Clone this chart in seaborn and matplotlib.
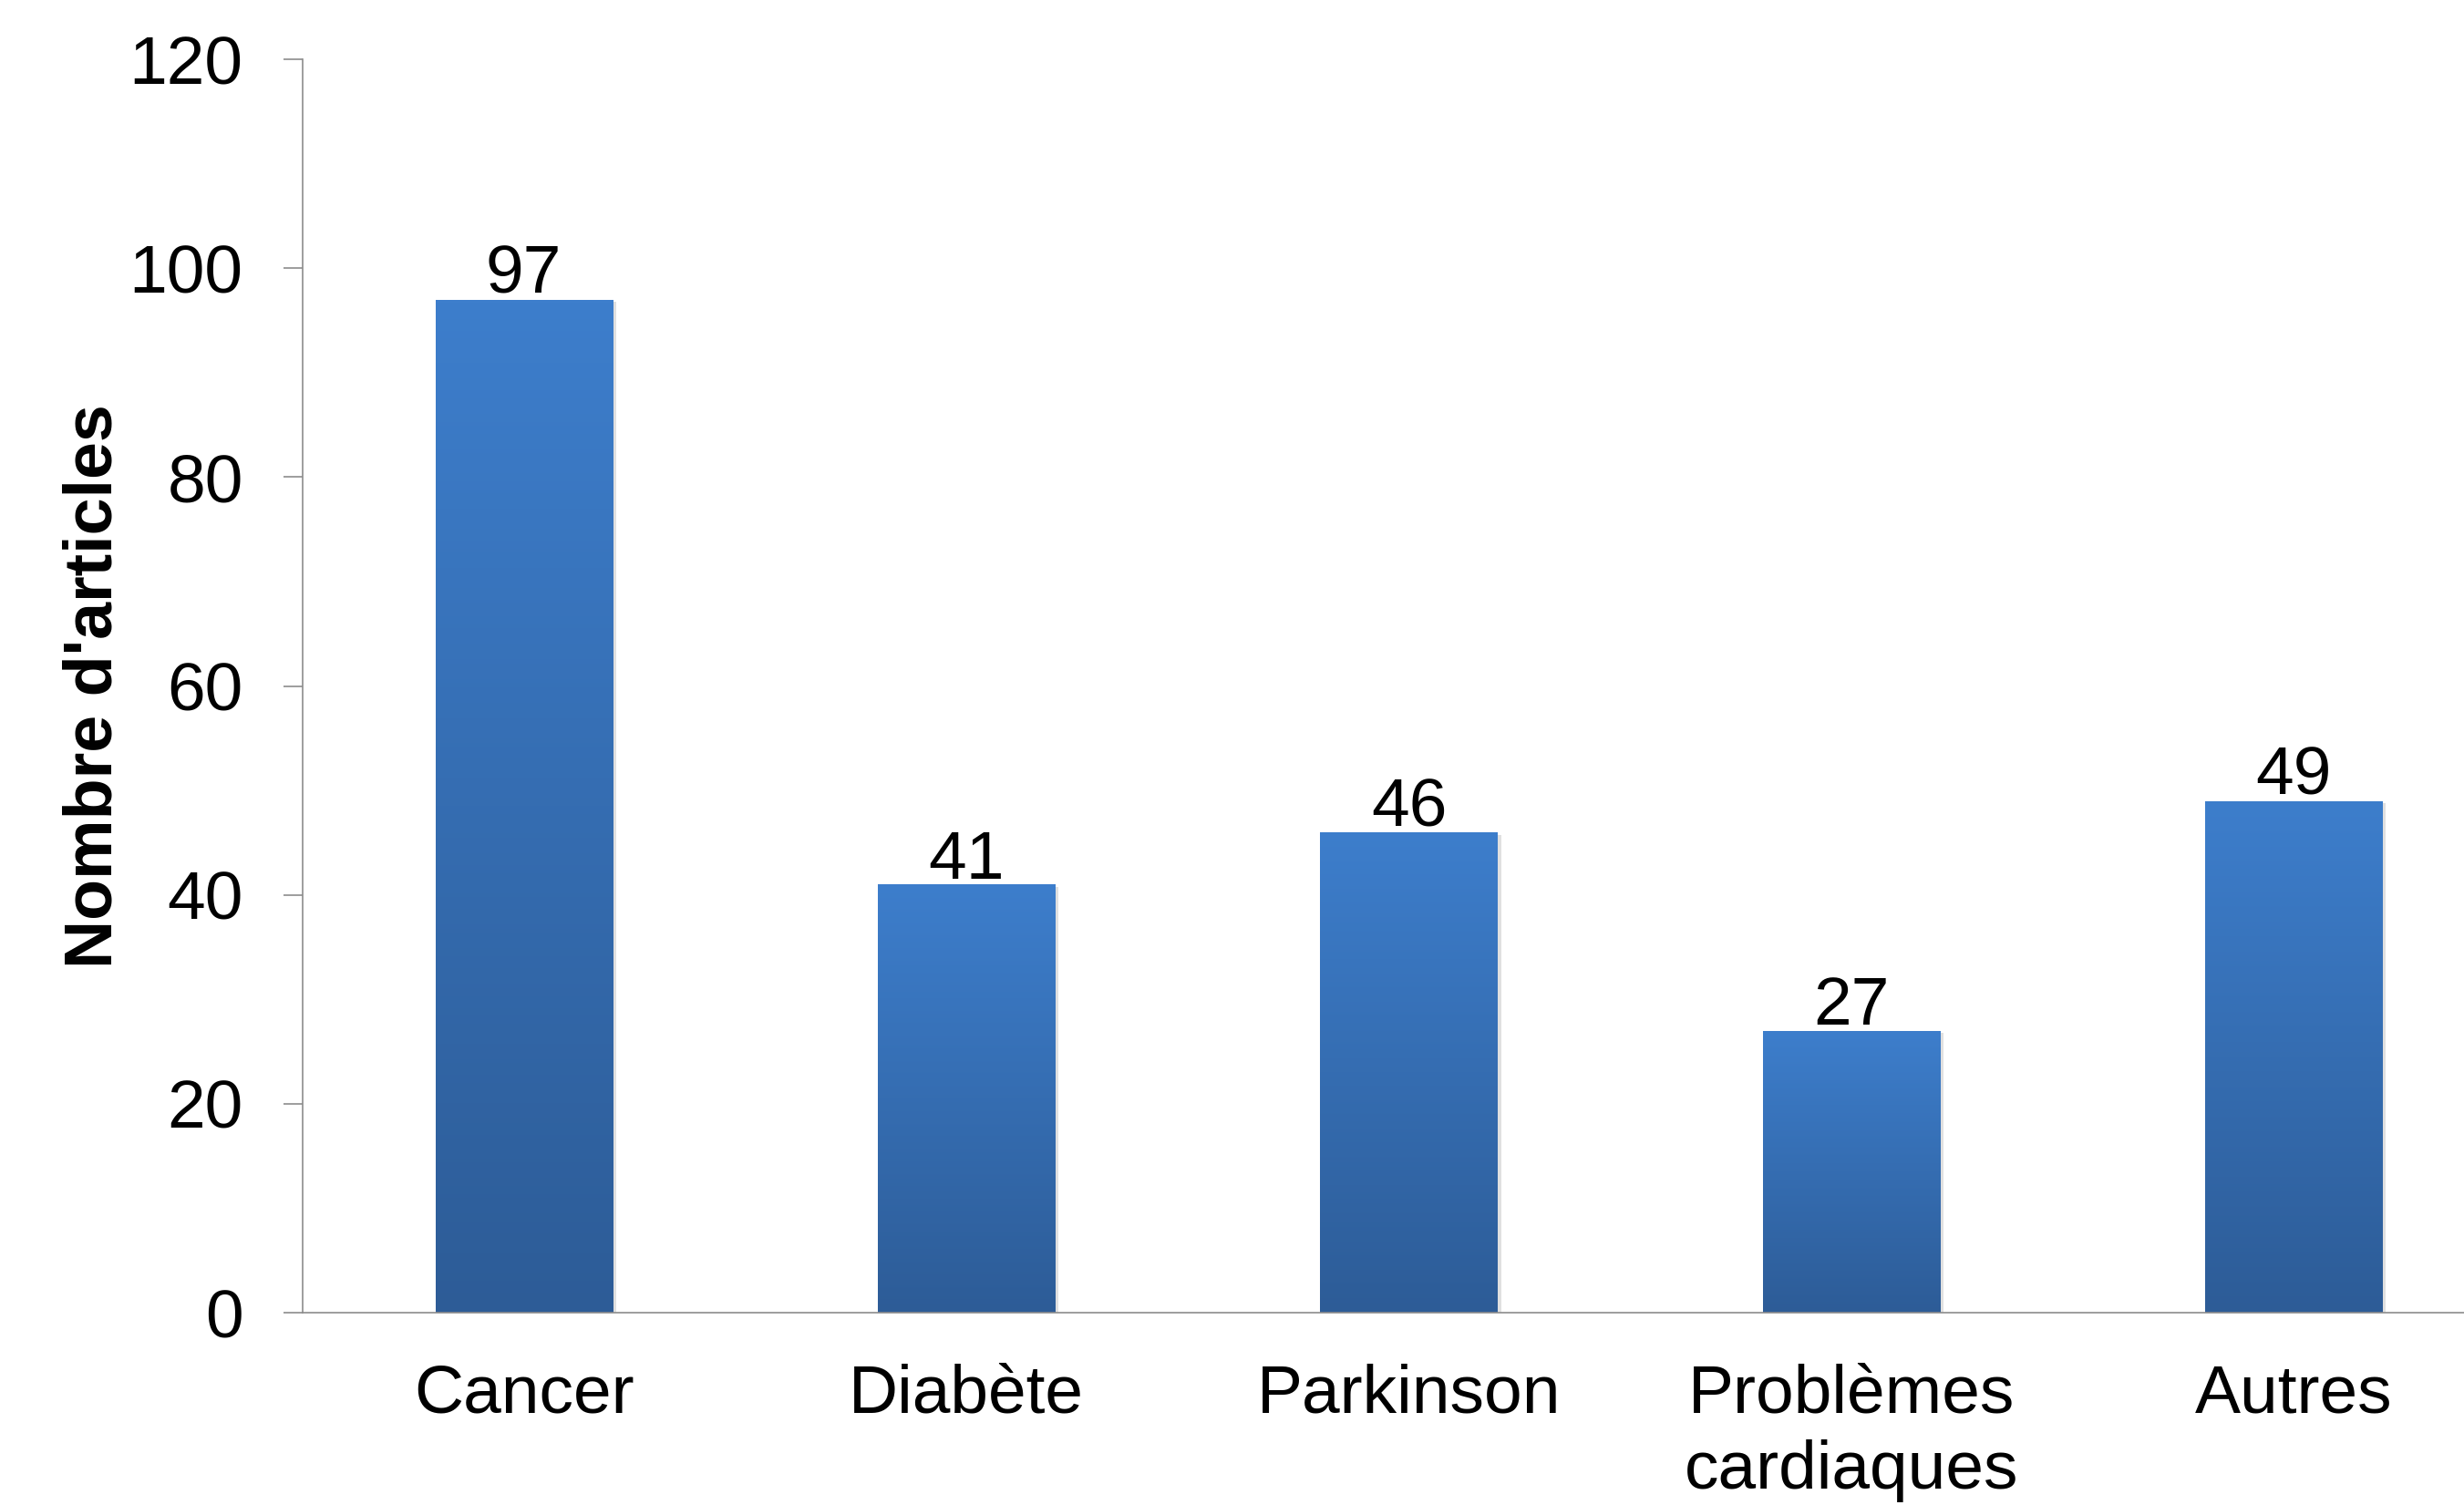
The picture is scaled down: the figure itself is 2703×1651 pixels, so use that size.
import matplotlib
matplotlib.use("Agg")
import matplotlib.pyplot as plt
import matplotlib.patheffects as pe
from matplotlib.colors import LinearSegmentedColormap
import seaborn as sns
import numpy as np
import pandas as pd

# data
categories = ["Cancer", "Diabète", "Parkinson", "Problèmes\ncardiaques", "Autres"]
articles = [97, 41, 46, 27, 49]
y_ticks = [0, 20, 40, 60, 80, 100, 120]

df = pd.DataFrame({"categorie": categories, "articles": articles})

sns.set_style("white")
plt.rcParams["font.family"] = ["Liberation Sans", "DejaVu Sans"]
plt.rcParams["text.color"] = "black"

fig = plt.figure(figsize=(27.03, 16.51), dpi=100)
ax = fig.add_axes([0.1228, 0.1278, 0.8979, 0.8328])

sns.barplot(data=df, x="categorie", y="articles", color="#3570B5",
            saturation=1, width=0.4, ax=ax)

# vertical gradient on each bar (light top -> dark bottom)
grad_cmap = LinearSegmentedColormap.from_list("bar_grad", ["#2D5C97", "#3D7ECC"])
grad = np.linspace(0, 1, 256).reshape(-1, 1)
for p in ax.patches:
    p.set_edgecolor("none")
    p.set_path_effects([pe.SimplePatchShadow(offset=(3, -2), alpha=0.18,
                                             shadow_rgbFace="#555555"), pe.Normal()])
    x0, w, h = p.get_x(), p.get_width(), p.get_height()
    im = ax.imshow(grad, extent=[x0, x0 + w, 0, h], origin="lower",
                   aspect="auto", cmap=grad_cmap, zorder=p.get_zorder() + 0.1)
    im.set_clip_path(p)

ax.set_xlim(-0.5, len(categories) - 0.5)
ax.set_ylim(0, 120)
ax.set_yticks(y_ticks)
ax.set_aspect("auto")

ax.bar_label(ax.containers[0], padding=-6, fontsize=54, color="black")

# axes styling
for s in ["top", "right"]:
    ax.spines[s].set_visible(False)
for s in ["left", "bottom"]:
    ax.spines[s].set_color("#8C8C8C")
    ax.spines[s].set_linewidth(1.2)

ax.set_xticks(np.arange(-0.5, len(categories)), minor=True)
ax.tick_params(axis="x", which="major", length=0, pad=40, labelsize=54,
               labelcolor="black")
ax.tick_params(axis="x", which="minor", direction="out", length=15,
               width=1.2, color="#8C8C8C")
ax.tick_params(axis="y", direction="out", length=15, width=1.2,
               color="#8C8C8C", pad=32, labelsize=54, labelcolor="black")
ax.tick_params(left=True, bottom=False, which="major")
for lbl in ax.get_xticklabels():
    lbl.set_linespacing(1.27)

ax.set_xlabel("")
ax.set_ylabel("Nombre d'articles", fontsize=53, fontweight="bold", color="black")
ax.yaxis.set_label_coords(-0.0803, 0.5)

fig.savefig("out.png", dpi=100)
